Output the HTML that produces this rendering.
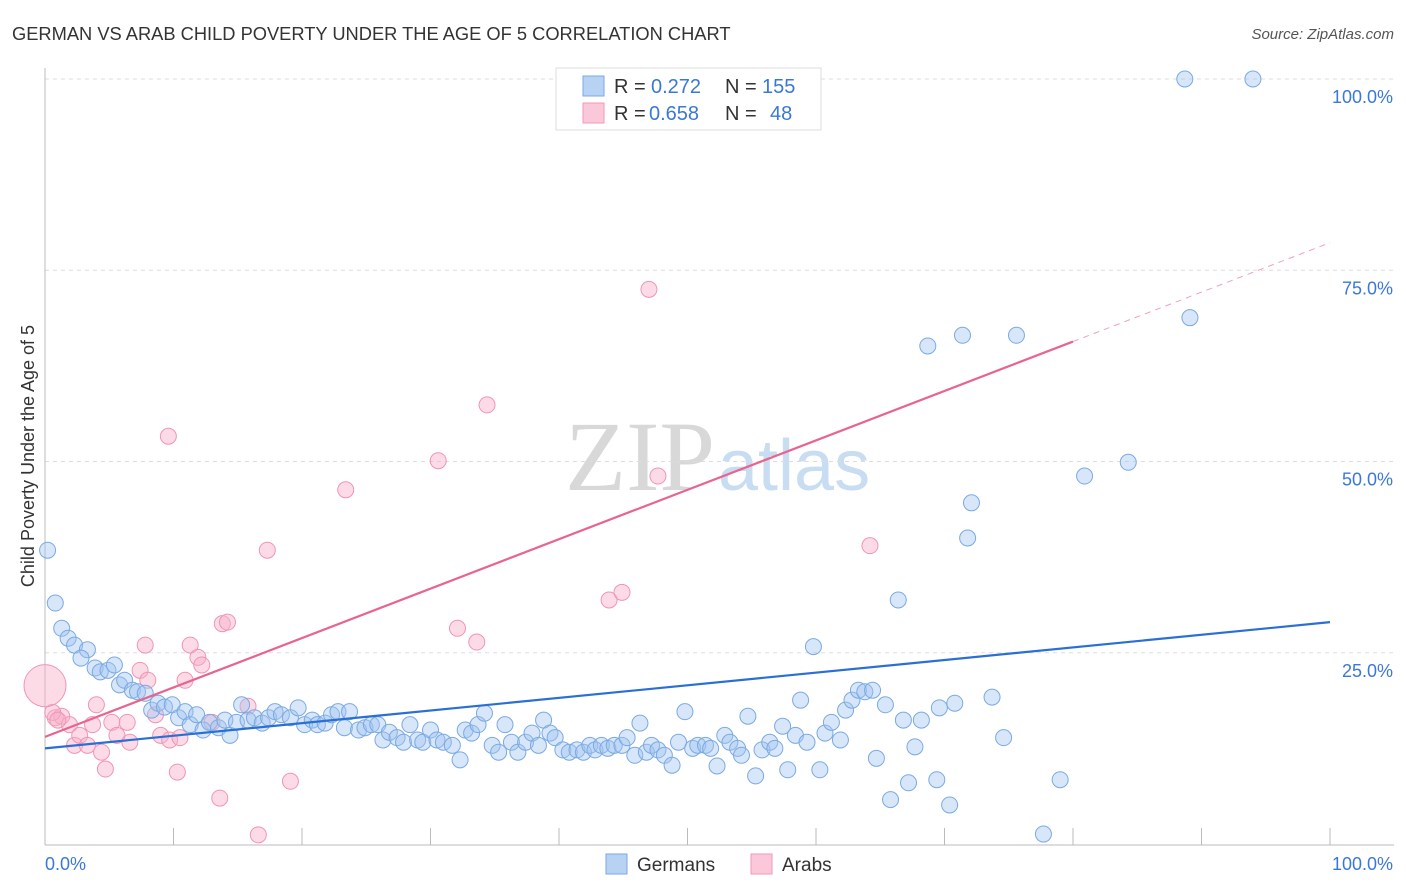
<!DOCTYPE html>
<html><head><meta charset="utf-8"><style>
body{margin:0;background:#fff;width:1406px;height:892px;overflow:hidden;font-family:"Liberation Sans",sans-serif}
svg{position:absolute;left:0;top:0}
</style></head><body>
<svg id="chart" width="1406" height="892">
<text x="12" y="40" font-size="18.3" fill="#333">GERMAN VS ARAB CHILD POVERTY UNDER THE AGE OF 5 CORRELATION CHART</text>
<text x="1394" y="39" font-size="15" fill="#555" font-style="italic" text-anchor="end">Source: ZipAtlas.com</text>
<text x="715" y="490" font-size="100" fill="#d8d8d8" text-anchor="end" font-family="Liberation Serif">ZIP</text>
<text x="718" y="490" font-size="72" fill="#c8dcf2">atlas</text>
<text transform="translate(34,456) rotate(-90)" font-size="18" fill="#333" text-anchor="middle">Child Poverty Under the Age of 5</text>
<g id="grid"></g><g id="marks"></g><g id="lines"></g>
<g>
<rect x="556" y="68" width="265" height="62" fill="#fff" stroke="#ddd"/>
<rect x="583" y="76" width="21" height="20" fill="#b8d2f4" stroke="#7aa9e6"/>
<rect x="583" y="103" width="21" height="20" fill="#fac8d8" stroke="#f09ab8"/>
<g font-size="20" fill="#333">
<text x="614" y="93">R =</text><text x="651" y="93" fill="#3a78d8">0.272</text><text x="725" y="93">N =</text><text x="762" y="93" fill="#3a78d8">155</text>
<text x="614" y="120">R =</text><text x="649" y="120" fill="#3a78d8">0.658</text><text x="725" y="120">N =</text><text x="770" y="120" fill="#3a78d8">48</text>
</g>
</g>
<g>
<rect x="606" y="854" width="21" height="20" fill="#b8d2f4" stroke="#7aa9e6"/>
<text x="637" y="871" font-size="19" fill="#333">Germans</text>
<rect x="751" y="854" width="21" height="20" fill="#fac8d8" stroke="#f09ab8"/>
<text x="782" y="871" font-size="19" fill="#333">Arabs</text>
</g>
</svg>
<script>
const yTicks=[25,50,75,100];
const yTickLabels=["25.0%","50.0%","75.0%","100.0%"];
const germansX=[0.2,0.8,1.3,1.8,2.3,3.3,2.8,3.9,4.3,4.9,5.4,5.8,6.2,6.8,7.2,7.8,8.3,8.8,9.3,9.9,10.4,10.9,11.3,11.8,12.3,12.8,13.5,14,14.4,14.9,15.3,15.8,16.3,16.9,17.4,17.9,18.4,19.1,19.7,20.2,20.8,21.2,21.8,22.3,22.8,23.3,23.7,24.4,24.9,25.4,25.9,26.3,26.8,27.4,27.9,28.4,29,29.4,30,30.5,31,31.7,32.3,32.7,33.2,33.7,34.2,34.8,35.3,35.8,36.3,36.8,37.4,37.9,38.4,38.8,39.3,39.7,40.3,40.8,41.4,41.9,42.4,42.8,43.3,43.8,44.3,44.9,45.3,45.9,46.3,46.8,47.2,47.7,48.2,48.8,49.3,49.8,50.4,50.8,51.4,51.8,52.3,52.9,53.3,53.9,54.2,54.7,55.3,55.8,56.4,56.8,57.4,57.8,58.4,58.8,59.3,59.8,60.3,60.7,61.2,61.9,62.3,62.8,63.3,63.8,64.4,64.7,65.4,65.8,66.4,66.8,67.2,67.7,68.2,68.7,69.4,69.6,70.4,70.8,71.4,71.8,72.1,73.7,74.6,75.6,77.7,79,80.9,84.3,88.7,89.1,94];
const germansY=[38.4,31.5,28.2,26.9,26,25.4,24.3,23,22.5,22.7,23.4,20.8,21.4,20.1,19.9,19.7,17.5,18.4,17.9,18.2,16.5,17.3,15.6,16.9,14.9,15.9,15.2,16.2,14.2,15.9,18.2,16.2,16.5,15.8,16.5,17.3,16.9,16.5,17.8,15.6,16.2,15.6,15.8,16.9,17.3,15.2,17.3,14.9,15.2,15.6,15.6,13.6,14.6,13.9,13.3,15.6,13.6,13.3,14.9,13.6,13.3,12.9,11,14.9,14.5,15.6,17.1,12.9,12,15.6,13.3,12,13.3,14.5,12.9,16.2,14.5,13.9,12.3,12,12.3,12,12.9,12.3,12.9,12.5,12.9,12.9,13.9,11.6,15.8,12,12.9,12.3,11.6,10.3,13.3,17.3,12.5,12.9,12.9,12.5,10.2,14.2,13.3,12.5,11.6,16.7,8.9,12.3,13.3,12.5,15.4,9.7,14.2,18.8,13.3,25.8,9.7,14.5,15.9,13.6,17.5,18.8,20.1,19.9,20.1,11.2,18.2,5.8,31.9,16.2,8,12.7,16.2,65.1,8.4,17.8,5.1,18.4,66.5,40,44.6,19.2,13.9,66.5,1.3,8.4,48.1,49.9,100,68.8,100];
const arabsX=[0.8,1.3,1.9,2.3,2.7,3.3,3.7,4,4.4,4.7,5.2,5.6,6.4,6.6,7.4,7.8,8,8.6,9,9.6,9.7,10.3,10.5,10.9,11.3,11.9,12.2,13,13.6,13.8,14.2,15.8,16.6,17.3,19.1,23.4,30.6,32.1,33.6,34.4,43.9,44.9,47,47.7,64.2,0.6,1.0];
const arabsY=[16.5,16.7,15.6,12.9,14.2,12.9,15.6,18.2,12,9.8,15.9,14.2,15.9,13.3,22.7,26,21.4,16.9,14.2,53.3,13.6,9.4,13.9,21.4,26,24.4,23.4,15.9,6,28.8,29,18,1.2,38.4,8.2,46.3,50.1,28.2,26.4,57.4,31.9,32.9,72.5,48.1,39,17.2,16.2];
const bigArab=[0,20.7];
const germansFit=[12.5,29.0];
const arabsFit=[14.0,78.6];
const X0=45,X1=1330,Y0=844,Y100=79;
const sx=v=>X0+(X1-X0)*v/100, sy=v=>Y0-(Y0-Y100)*v/100;
const NS="http://www.w3.org/2000/svg";
function mk(t,a,p){const e=document.createElementNS(NS,t);for(const k in a)e.setAttribute(k,a[k]);p.appendChild(e);return e;}
const grid=document.getElementById('grid');
yTicks.forEach((t,i)=>{
 const l=mk('line',{x1:X0,x2:1394,y1:sy(t),y2:sy(t),stroke:'#ddd','stroke-dasharray':'4,4'},grid);
 
 
 const tx=mk('text',{x:1393,y:sy(t)+24,'font-size':18,fill:'#3a78d8','text-anchor':'end'},grid);
 tx.textContent=yTickLabels[i];
 
 
});
const ax=mk('line',{x1:X0,x2:X0,y1:68,y2:845,stroke:'#bbb'},grid);


const xa=mk('line',{x1:X0,x2:1394,y1:845,y2:845,stroke:'#bbb'},grid);


for(let i=1;i<=10;i++){const t=mk('line',{x1:sx(i*10),x2:sx(i*10),y1:828,y2:845,stroke:'#bbb'},grid);
 
 }
const xl0=mk('text',{x:45,y:870,'font-size':18,fill:'#3a78d8'},grid);xl0.textContent='0.0%';


const xl1=mk('text',{x:1393,y:870,'font-size':18,fill:'#3a78d8','text-anchor':'end'},grid);xl1.textContent='100.0%';


const marks=document.getElementById('marks');
arabsX.forEach((x,i)=>{const c=mk('circle',{cx:sx(x),cy:sy(arabsY[i]),r:8,fill:'rgba(248,176,200,0.45)',stroke:'#f095b5','stroke-width':1},marks);
 
 });
const bc=mk('circle',{cx:sx(bigArab[0]),cy:sy(bigArab[1]),r:21,fill:'rgba(248,176,200,0.45)',stroke:'#f095b5'},marks);


germansX.forEach((x,i)=>{const c=mk('circle',{cx:sx(x),cy:sy(germansY[i]),r:8,fill:'rgba(160,196,240,0.42)',stroke:'#7aaae2','stroke-width':1},marks);
 
 });
const lines=document.getElementById('lines');
const gl=mk('line',{x1:sx(0),y1:sy(germansFit[0]),x2:sx(100),y2:sy(germansFit[1]),stroke:'#2a6fd6','stroke-width':2.2},lines);


const am=arabsFit[0]+(arabsFit[1]-arabsFit[0])*0.8;
const al=mk('line',{x1:sx(0),y1:sy(arabsFit[0]),x2:sx(80),y2:sy(am),stroke:'#e8648f','stroke-width':2.2},lines);


const ad=mk('line',{x1:sx(80),y1:sy(am),x2:sx(100),y2:sy(arabsFit[1]),stroke:'#f0a0bb','stroke-width':1,'stroke-dasharray':'6,5'},lines);


</script>
</body></html>
